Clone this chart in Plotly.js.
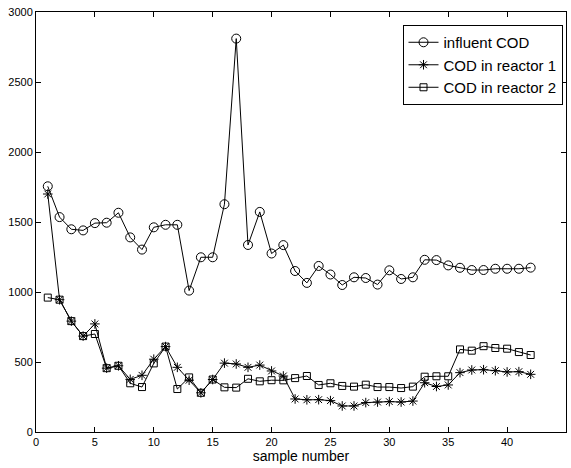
<!DOCTYPE html>
<html>
<head>
<meta charset="utf-8">
<script src="https://cdn.plot.ly/plotly-3.0.1.min.js"></script>
<style>html,body{margin:0;padding:0;background:#fff;}#chart{width:571px;height:468px;}</style>
</head>
<body>
<div id="chart"></div>
<script>
const sampleNumber = [1,2,3,4,5,6,7,8,9,10,11,12,13,14,15,16,17,18,19,20,21,22,23,24,25,26,27,28,29,30,31,32,33,34,35,36,37,38,39,40,41,42];
const influentCOD = [1755,1535,1448,1440,1492,1495,1566,1390,1303,1462,1480,1480,1010,1248,1248,1627,2810,1336,1572,1275,1335,1150,1065,1186,1125,1050,1105,1100,1053,1155,1093,1105,1230,1228,1190,1173,1157,1157,1166,1166,1166,1174];
const reactor1COD = [1700,945,792,685,772,456,473,376,405,520,610,462,370,280,375,492,486,462,478,436,400,236,230,231,224,186,186,210,214,217,214,221,352,325,336,424,443,445,438,429,431,412];
const reactor2COD = [960,945,792,685,700,456,473,348,321,490,610,307,390,280,375,319,317,380,362,370,369,385,400,336,348,329,324,338,321,321,314,324,395,398,398,590,581,613,600,595,571,550];
const seriesNames = ["influent COD","COD in reactor 1","COD in reactor 2"];
const xTickVals = [0,5,10,15,20,25,30,35,40,45];
const yTickVals = [0,500,1000,1500,2000,2500,3000];

const lineStyle = {color:'#000', width:1};
const traces = [
  {x:sampleNumber, y:influentCOD, name:seriesNames[0], mode:'lines+markers', line:lineStyle,
   marker:{symbol:'circle-open', size:9, color:'#000', line:{width:1, color:'#000'}}},
  {x:sampleNumber, y:reactor1COD, name:seriesNames[1], mode:'lines+markers', line:lineStyle,
   marker:{symbol:'asterisk-open', size:8, color:'#000', line:{width:1, color:'#000'}}},
  {x:sampleNumber, y:reactor2COD, name:seriesNames[2], mode:'lines+markers', line:lineStyle,
   marker:{symbol:'square-open', size:7, color:'#000', line:{width:1, color:'#000'}}}
];
const fontFam = '"Liberation Sans", Arial, Helvetica, sans-serif';
const layout = {
  width:571, height:468,
  margin:{l:36, r:5, t:12, b:36},
  paper_bgcolor:'#fff', plot_bgcolor:'#fff',
  font:{family:fontFam, size:11, color:'#000'},
  showlegend:true,
  legend:{x:0.9934, xanchor:'right', y:0.969, yanchor:'top', bgcolor:'#fff', bordercolor:'#000', borderwidth:1,
          font:{family:fontFam, size:15, color:'#000'}, itemwidth:30, tracegroupgap:0},
  xaxis:{range:[0,45], tickvals:xTickVals, ticktext:xTickVals.map(String), ticks:'inside', ticklen:5, tickcolor:'#000',
         showline:true, linecolor:'#000', linewidth:1, mirror:'ticks', showgrid:false, zeroline:false,
         tickfont:{family:fontFam, size:11, color:'#000'},
         title:{text:'sample number', font:{family:fontFam, size:14, color:'#000'}, standoff:2}},
  yaxis:{range:[0,3000], tickvals:yTickVals, ticktext:yTickVals.map(String), ticks:'inside', ticklen:5, tickcolor:'#000',
         showline:true, linecolor:'#000', linewidth:1, mirror:'ticks', showgrid:false, zeroline:false,
         tickfont:{family:fontFam, size:11, color:'#000'}}
};
Plotly.newPlot('chart', traces, layout, {displayModeBar:false, staticPlot:true});
</script>
</body>
</html>
